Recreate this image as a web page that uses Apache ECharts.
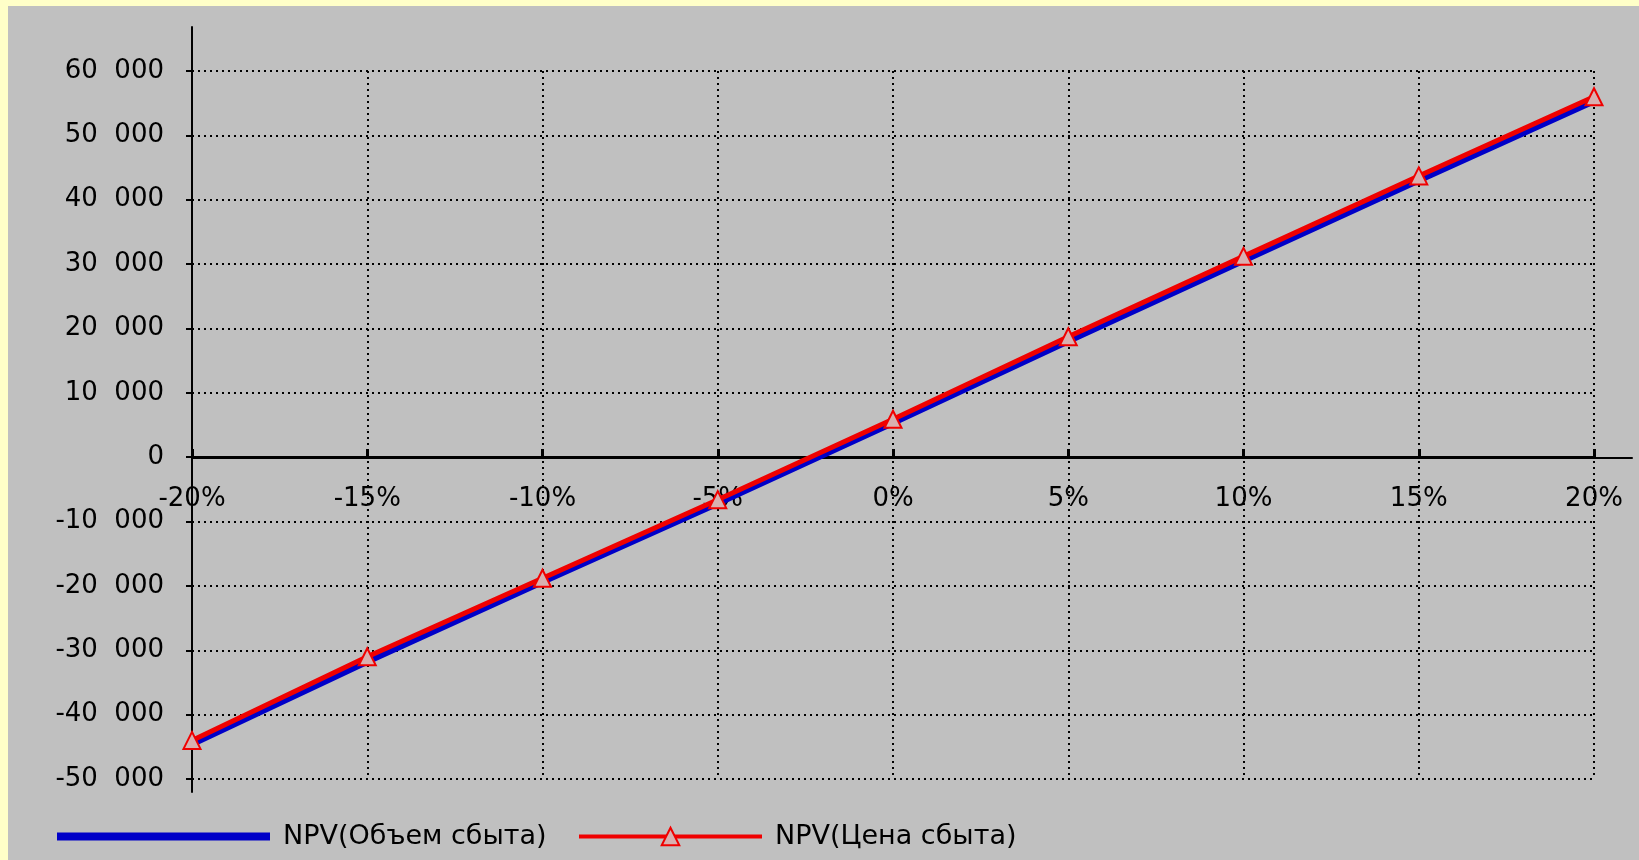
<!DOCTYPE html>
<html><head><meta charset="utf-8">
<script src="https://cdn.jsdelivr.net/npm/echarts@6/dist/echarts.min.js"></script>
<style>
html,body{margin:0;padding:0;background:#FFFFC8;width:1639px;height:860px;overflow:hidden;}
#c{position:absolute;left:8px;top:6px;width:1631px;height:854px;}
</style></head><body>
<div id="c"></div>
<script>
const categories = ['-20%','-15%','-10%','-5%','0%','5%','10%','15%','20%'];
const npvVolume = [-44600,-31800,-19400,-7200,5300,18000,30500,43000,55300];
const npvPrice  = [-44000,-31000,-18800,-6600,5900,18700,31200,43700,56000];
const seriesNames = ['NPV(Объем сбыта)','NPV(Цена сбыта)'];

const FONT = 'DejaVu Sans';
function fmt(v){
  if (v === 0) return '0';
  const s = v < 0 ? '-' : '';
  const a = Math.abs(v);
  return s + Math.floor(a/1000) + '  ' + String(a%1000).padStart(3,'0');
}
const chart = echarts.init(document.getElementById('c'));
chart.setOption({
  backgroundColor:'#C0C0C0',
  animation:false,
  grid:[
    {left:184,right:45,top:65,bottom:81},
    {left:184,right:7,top:21,bottom:68}
  ],
  legend:[
    {left:49,top:817,padding:0,itemWidth:213,itemHeight:8,
     data:[{name:seriesNames[0],icon:'rect'}],
     textStyle:{fontFamily:FONT,fontSize:27,color:'#000',padding:[0,0,0,8]}},
    {left:569,top:817,padding:0,itemWidth:183,itemHeight:22,data:[seriesNames[1]],
     lineStyle:{width:4},
     textStyle:{fontFamily:FONT,fontSize:27,color:'#000',padding:[0,0,0,8]}}
  ],
  xAxis:[
    {type:'category',gridIndex:0,data:categories,boundaryGap:false,
     position:'bottom',offset:-322,
     axisLine:{onZero:false,lineStyle:{color:'#000',width:2}},
     axisTick:{inside:true,length:8,lineStyle:{color:'#000',width:3},alignWithLabel:true},
     axisLabel:{fontFamily:FONT,fontSize:26,color:'#000',margin:29},
     splitLine:{show:true,lineStyle:{color:'#000',type:[2,4],width:2}}},
    {type:'value',gridIndex:1,min:0,max:1,
     axisLine:{onZero:true,lineStyle:{color:'#000',width:2}},
     axisTick:{show:false},axisLabel:{show:false},splitLine:{show:false}}
  ],
  yAxis:[
    {type:'value',gridIndex:0,min:-50000,max:60000,interval:10000,
     axisLine:{show:true,lineStyle:{color:'#000',width:2}},
     axisTick:{show:true,length:6,lineStyle:{color:'#000',width:2}},
     axisLabel:{fontFamily:FONT,fontSize:26,color:'#000',margin:28,formatter:fmt},
     splitLine:{show:true,lineStyle:{color:'#000',type:[2,4],width:2}}},
    {type:'value',gridIndex:1,min:-52000,max:67000,
     axisLine:{show:true,onZero:false,lineStyle:{color:'#000',width:2}},
     axisTick:{show:false},axisLabel:{show:false},splitLine:{show:false}}
  ],
  series:[
    {name:seriesNames[0],type:'line',xAxisIndex:0,yAxisIndex:0,data:npvVolume,
     symbol:'none',lineStyle:{color:'#0000C8',width:6},itemStyle:{color:'#0000C8'},z:2},
    {name:seriesNames[1],type:'line',xAxisIndex:0,yAxisIndex:0,data:npvPrice,
     symbol:'triangle',symbolSize:17,showAllSymbol:true,
     lineStyle:{color:'#F00000',width:5},
     itemStyle:{color:'#D8B0B0',borderColor:'#F00000',borderWidth:2},z:3}
  ]
});
</script></body></html>
